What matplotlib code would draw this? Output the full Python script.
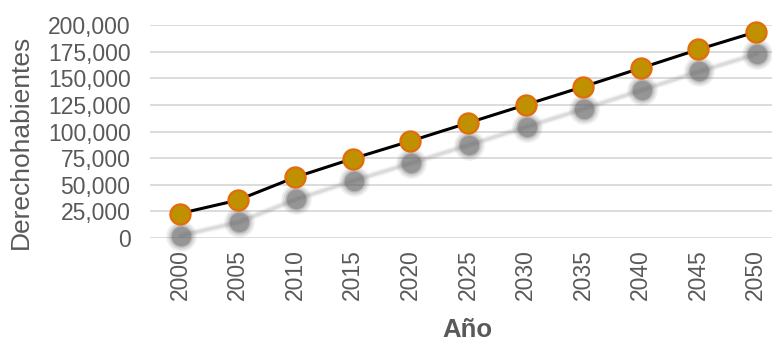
import numpy as np
import matplotlib.pyplot as plt
import matplotlib.transforms as mtransforms
from matplotlib.ticker import FuncFormatter

years = [2000, 2005, 2010, 2015, 2020, 2025, 2030, 2035, 2040, 2045, 2050]
derechohabientes = [23000, 35500, 57000, 74500, 91000, 108000, 125000,
                     142000, 159500, 177000, 193500]
y_ticks = [0, 25000, 50000, 75000, 100000, 125000, 150000, 175000, 200000]

TEXT = "#595959"
FACE = "#BF9000"
EDGE = "#E46C0A"


def main():
    plt.rcParams["font.family"] = ["Liberation Sans", "DejaVu Sans"]
    fig = plt.figure(figsize=(7.72, 3.41), dpi=100)
    ax = fig.add_axes([150 / 772, 1 - 238 / 341, 622 / 772, 213 / 341])

    # soft drop shadow: a few stacked offset copies with low alpha
    for grow, alpha in [(8, 0.10), (5, 0.15), (2, 0.25), (0, 0.35)]:
        tr = mtransforms.offset_copy(ax.transData, fig=fig, x=1, y=-22, units="dots")
        ax.plot(years, derechohabientes, color="#7f7f7f", lw=2.2 + grow * 0.4,
                alpha=alpha * 0.35, transform=tr, clip_on=False, zorder=2,
                solid_capstyle="round")
        ax.plot(years, derechohabientes, ls="none", marker="o",
                ms=14 + grow, mfc="#5a5a5a", mec="none",
                alpha=alpha, transform=tr, clip_on=False, zorder=2)

    ax.plot(years, derechohabientes, color="black", lw=2.2, marker="o",
            ms=14.5, mfc=FACE, mec=EDGE, mew=1.6, clip_on=False, zorder=3)

    ax.set_xlim(1997.4, 2051.4)
    ax.set_ylim(0, 200000)
    ax.set_yticks(y_ticks)
    ax.yaxis.set_major_formatter(FuncFormatter(lambda v, p: f"{int(v):,}"))
    ax.set_xticks(years)
    ax.set_xticklabels([str(y) for y in years], rotation=90)

    ax.grid(axis="y", color="#D9D9D9", lw=1.3)
    ax.set_axisbelow(True)
    for s in ax.spines.values():
        s.set_visible(False)
    ax.tick_params(length=0, labelsize=16.5, colors=TEXT, pad=8)
    ax.tick_params(axis="y", pad=14)

    ax.set_ylabel("Derechohabientes", fontsize=19, color=TEXT)
    ax.yaxis.set_label_coords(-0.188, 0.45)
    ax.set_xlabel("Año", fontsize=18.5, color=TEXT, fontweight="bold")
    ax.xaxis.set_label_coords(0.51, -0.375)

    fig.savefig("out.png", dpi=100)
    plt.close(fig)


if __name__ == "__main__":
    main()
